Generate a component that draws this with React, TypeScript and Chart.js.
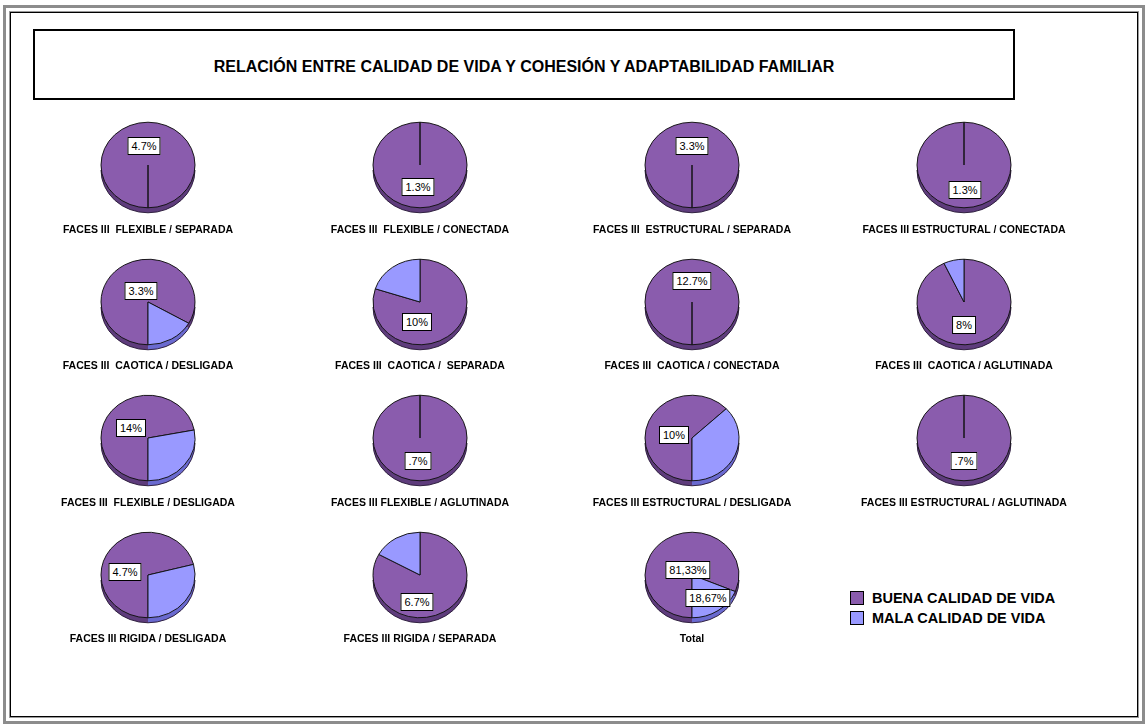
import React, { useEffect, useRef } from "react";
import { Chart, registerables } from "chart.js";

Chart.register(...registerables);

// ---------- DATA ----------
const categories = ["BUENA CALIDAD DE VIDA", "MALA CALIDAD DE VIDA"];

const pieTitles = [
  "FACES III  FLEXIBLE / SEPARADA",
  "FACES III  FLEXIBLE / CONECTADA",
  "FACES III  ESTRUCTURAL / SEPARADA",
  "FACES III ESTRUCTURAL / CONECTADA",
  "FACES III  CAOTICA / DESLIGADA",
  "FACES III  CAOTICA /  SEPARADA",
  "FACES III  CAOTICA / CONECTADA",
  "FACES III  CAOTICA / AGLUTINADA",
  "FACES III  FLEXIBLE / DESLIGADA",
  "FACES III FLEXIBLE / AGLUTINADA",
  "FACES III ESTRUCTURAL / DESLIGADA",
  "FACES III ESTRUCTURAL / AGLUTINADA",
  "FACES III RIGIDA / DESLIGADA",
  "FACES III RIGIDA / SEPARADA",
  "Total",
];

const buenaValues = [100, 100, 100, 100, 83.3, 80, 100, 93, 72, 100, 63, 100, 71, 83, 81.33];
const malaValues = [0, 0, 0, 0, 16.7, 20, 0, 7, 28, 0, 37, 0, 29, 17, 18.67];

const pieLabels = [
  ["4.7%"], ["1.3%"], ["3.3%"], ["1.3%"],
  ["3.3%"], ["10%"], ["12.7%"], ["8%"],
  ["14%"], [".7%"], ["10%"], [".7%"],
  ["4.7%"], ["6.7%"], ["81,33%", "18,67%"],
];

const chartTitle = "RELACIÓN ENTRE CALIDAD DE VIDA Y COHESIÓN Y ADAPTABILIDAD FAMILIAR";

// ---------- LAYOUT / STYLE ----------
const FONT = '"Liberation Sans", Arial, Helvetica, sans-serif';
const PURPLE = "#8a5cad";
const BLUE = "#9999ff";
const SIDE_COLORS = ["#5e3c7c", "#6a6ad0"];
const COL_X = [148, 420, 692, 964];
const ROW_Y = [165, 301.5, 438, 575];
const CAPTION_Y = [230, 366, 503, 639];
const PIE_R = 47;
const SQUASH = 0.91;
const DEPTH = 5;
const CANVAS = 120;

// label box centres (layout only)
const labelBoxPos: number[][][] = [
  [[144, 146]], [[418, 187]], [[692, 146]], [[965, 190]],
  [[141, 291]], [[417, 321.5]], [[692, 280.5]], [[964, 325]],
  [[131, 427.5]], [[418, 461]], [[674, 435]], [[964, 461]],
  [[125, 572]], [[417, 602]], [[688, 570], [708, 597.5]],
];

const tiltPlugin = {
  id: "tilt",
  beforeDatasetsDraw(chart: any) {
    const ctx = chart.ctx as CanvasRenderingContext2D;
    const arcs = chart.getDatasetMeta(0).data as any[];
    if (!arcs.length) return;
    const cy = arcs[0].y;
    const cx = arcs[0].x;
    const r = arcs[0].outerRadius;
    ctx.save();
    ctx.translate(0, cy);
    ctx.scale(1, SQUASH);
    ctx.translate(0, -cy);
    const d = DEPTH / SQUASH;
    arcs.forEach((a, i) => {
      if (!a.circumference) return;
      ctx.beginPath();
      ctx.moveTo(a.x, a.y + d);
      ctx.arc(a.x, a.y + d, a.outerRadius, a.startAngle, a.endAngle);
      ctx.closePath();
      ctx.fillStyle = SIDE_COLORS[i];
      ctx.fill();
    });
    ctx.beginPath();
    ctx.arc(cx, cy + d, r, 0, Math.PI);
    ctx.lineWidth = 1;
    ctx.strokeStyle = "#2a1a3a";
    ctx.stroke();
  },
  afterDatasetsDraw(chart: any) {
    chart.ctx.restore();
  },
};

function Pie({ idx }: { idx: number }) {
  const ref = useRef<HTMLCanvasElement>(null);
  const col = idx % 4;
  const row = Math.floor(idx / 4);
  const cx = COL_X[col];
  const cy = ROW_Y[row];
  const rotation = col % 2 === 0 ? 180 : 0;
  useEffect(() => {
    const chart = new Chart(ref.current as HTMLCanvasElement, {
      type: "pie",
      data: {
        labels: categories,
        datasets: [
          {
            data: [buenaValues[idx], malaValues[idx]],
            backgroundColor: [PURPLE, BLUE],
            borderColor: "#111111",
            borderWidth: 1,
          },
        ],
      },
      options: {
        responsive: false,
        animation: false,
        events: [],
        rotation,
        radius: PIE_R,
        layout: { padding: 0 },
        plugins: {
          legend: { display: false },
          tooltip: { enabled: false },
          title: { display: false },
        },
      },
      plugins: [tiltPlugin as any],
    });
    return () => chart.destroy();
  }, []);
  return (
    <>
      <div style={{ position: "absolute", left: cx - CANVAS / 2, top: cy - CANVAS / 2, width: CANVAS, height: CANVAS }}>
        <canvas ref={ref} width={CANVAS} height={CANVAS} style={{ display: "block" }} />
      </div>
      {pieLabels[idx].map((t, k) => (
        <div
          key={k}
          style={{
            position: "absolute",
            left: labelBoxPos[idx][k][0],
            top: labelBoxPos[idx][k][1],
            transform: "translate(-50%, -50%)",
            background: "#fff",
            border: "1px solid #000",
            padding: "0 3px",
            font: `11px ${FONT}`,
            lineHeight: "16px",
            whiteSpace: "pre",
            color: "#000",
          }}
        >
          {t}
        </div>
      ))}
      <div
        style={{
          position: "absolute",
          left: cx - 130,
          width: 260,
          top: CAPTION_Y[row] - 7,
          height: 14,
          lineHeight: "14px",
          textAlign: "center",
          font: `bold 10.5px ${FONT}`,
          whiteSpace: "pre",
          color: "#000",
        }}
      >
        {pieTitles[idx]}
      </div>
    </>
  );
}

export default function App() {
  return (
    <div style={{ position: "absolute", left: 0, top: 0, width: 1148, height: 726, background: "#fff", overflow: "hidden", fontFamily: FONT }}>
      {/* outer gray frame */}
      <div style={{ position: "absolute", left: 3, top: 5, width: 1142, height: 719, border: "3px solid #8c8c8c", boxSizing: "border-box" }} />
      {/* inner frame */}
      <div style={{ position: "absolute", left: 9, top: 11, width: 1130, height: 707, border: "1px solid #9a9a9a", boxSizing: "border-box" }} />
      <div style={{ position: "absolute", left: 10, top: 12, width: 1128, height: 705, border: "1px solid #000", boxSizing: "border-box" }} />
      {/* title box */}
      <div
        style={{
          position: "absolute",
          left: 33,
          top: 29,
          width: 982,
          height: 71,
          border: "2px solid #000",
          boxSizing: "border-box",
          display: "flex",
          alignItems: "center",
          justifyContent: "center",
          paddingTop: 4,
          font: `bold 16px ${FONT}`,
          color: "#000",
        }}
      >
        {chartTitle}
      </div>
      {pieTitles.map((_, i) => (
        <Pie key={i} idx={i} />
      ))}
      {/* legend */}
      {categories.map((c, i) => (
        <div key={c} style={{ position: "absolute", left: 850, top: 591 + i * 20, height: 14, display: "flex", alignItems: "center" }}>
          <div style={{ width: 12, height: 12, background: i === 0 ? PURPLE : BLUE, border: "1px solid #000" }} />
          <div style={{ marginLeft: 8, font: `bold 14.5px ${FONT}`, color: "#000", whiteSpace: "pre" }}>{c}</div>
        </div>
      ))}
    </div>
  );
}
